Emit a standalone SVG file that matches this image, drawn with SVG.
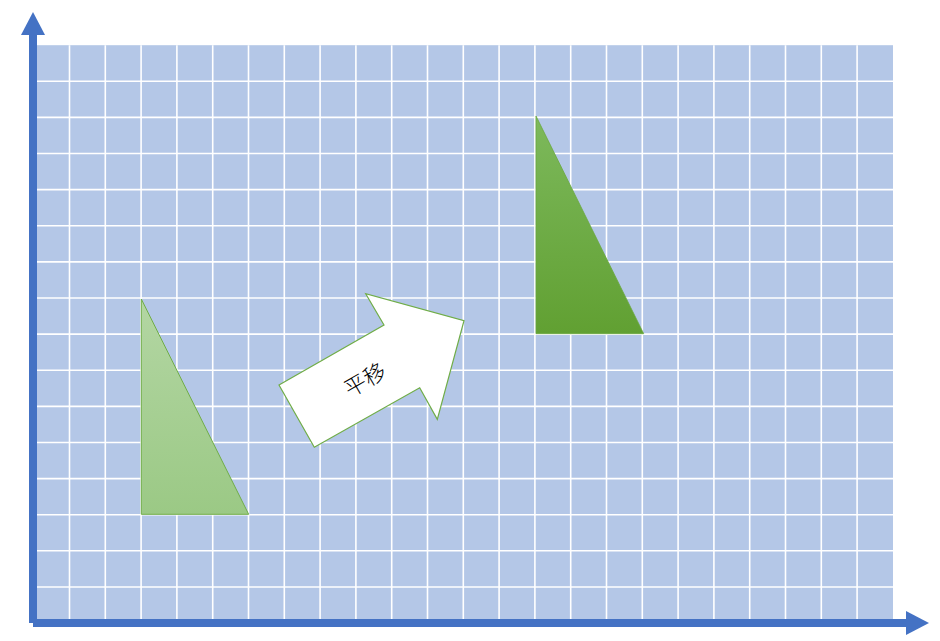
<svg xmlns="http://www.w3.org/2000/svg" width="940" height="641" viewBox="0 0 940 641">
<defs>
<style>
.grid line{stroke:#ffffff;stroke-width:1.6}
.axis{fill:#4472c4}
.lbl{font-family:"Noto Sans CJK SC","Noto Sans",sans-serif;font-size:22px;font-weight:300;fill:#000}
</style>
<linearGradient id="g1" x1="0" y1="0" x2="0" y2="1">
<stop offset="0" stop-color="#b3d6a3"/>
<stop offset="1" stop-color="#9bc985"/>
</linearGradient>
<linearGradient id="g2" x1="0" y1="0" x2="0" y2="1">
<stop offset="0" stop-color="#7db95c"/>
<stop offset="1" stop-color="#61a032"/>
</linearGradient>
</defs>
<rect width="940" height="641" fill="#ffffff"/>
<g id="grid" class="grid">
<rect x="33.7" y="45.2" width="859.3" height="578" fill="#b4c7e7" stroke="none"/>
<line x1="69.5" y1="45.2" x2="69.5" y2="623"/>
<line x1="105.3" y1="45.2" x2="105.3" y2="623"/>
<line x1="141.1" y1="45.2" x2="141.1" y2="623"/>
<line x1="176.9" y1="45.2" x2="176.9" y2="623"/>
<line x1="212.7" y1="45.2" x2="212.7" y2="623"/>
<line x1="248.5" y1="45.2" x2="248.5" y2="623"/>
<line x1="284.3" y1="45.2" x2="284.3" y2="623"/>
<line x1="320.1" y1="45.2" x2="320.1" y2="623"/>
<line x1="355.9" y1="45.2" x2="355.9" y2="623"/>
<line x1="391.7" y1="45.2" x2="391.7" y2="623"/>
<line x1="427.5" y1="45.2" x2="427.5" y2="623"/>
<line x1="463.3" y1="45.2" x2="463.3" y2="623"/>
<line x1="499.1" y1="45.2" x2="499.1" y2="623"/>
<line x1="534.9" y1="45.2" x2="534.9" y2="623"/>
<line x1="570.7" y1="45.2" x2="570.7" y2="623"/>
<line x1="606.5" y1="45.2" x2="606.5" y2="623"/>
<line x1="642.3" y1="45.2" x2="642.3" y2="623"/>
<line x1="678.1" y1="45.2" x2="678.1" y2="623"/>
<line x1="713.9" y1="45.2" x2="713.9" y2="623"/>
<line x1="749.7" y1="45.2" x2="749.7" y2="623"/>
<line x1="785.5" y1="45.2" x2="785.5" y2="623"/>
<line x1="821.3" y1="45.2" x2="821.3" y2="623"/>
<line x1="857.1" y1="45.2" x2="857.1" y2="623"/>
<line x1="33.7" y1="81.3" x2="893" y2="81.3"/>
<line x1="33.7" y1="117.4" x2="893" y2="117.4"/>
<line x1="33.7" y1="153.5" x2="893" y2="153.5"/>
<line x1="33.7" y1="189.6" x2="893" y2="189.6"/>
<line x1="33.7" y1="225.8" x2="893" y2="225.8"/>
<line x1="33.7" y1="261.9" x2="893" y2="261.9"/>
<line x1="33.7" y1="298.0" x2="893" y2="298.0"/>
<line x1="33.7" y1="334.1" x2="893" y2="334.1"/>
<line x1="33.7" y1="370.2" x2="893" y2="370.2"/>
<line x1="33.7" y1="406.4" x2="893" y2="406.4"/>
<line x1="33.7" y1="442.5" x2="893" y2="442.5"/>
<line x1="33.7" y1="478.6" x2="893" y2="478.6"/>
<line x1="33.7" y1="514.7" x2="893" y2="514.7"/>
<line x1="33.7" y1="550.8" x2="893" y2="550.8"/>
<line x1="33.7" y1="587.0" x2="893" y2="587.0"/>
</g>
<g id="axes">
<rect class="axis" x="29" y="34" width="8" height="589"/>
<polygon class="axis" points="33,12 45,35 21,35"/>
<rect class="axis" x="33" y="619" width="874" height="8"/>
<polygon class="axis" points="929,623 906,611 906,635"/>
</g>
<g id="triangle-original">
<polygon points="141.3,299 141.3,514.3 248.7,514.3" fill="url(#g1)" stroke="#70ad47" stroke-width="1"/>
</g>
<g id="triangle-moved">
<polygon points="536,116 536,333.7 643.7,333.7" fill="url(#g2)" stroke="#6aa83e" stroke-width="0.8"/>
</g>
<g id="arrow">
<polygon points="279,385 384,325 365.7,293.7 464,320.7 437.3,419.3 419.7,387.7 314.3,447.3" fill="#ffffff" stroke="#70ad47" stroke-width="1.2"/>
<text class="lbl" x="364" y="378" text-anchor="middle" dominant-baseline="central" transform="rotate(-30 364 378)">平移</text>
</g>
</svg>
